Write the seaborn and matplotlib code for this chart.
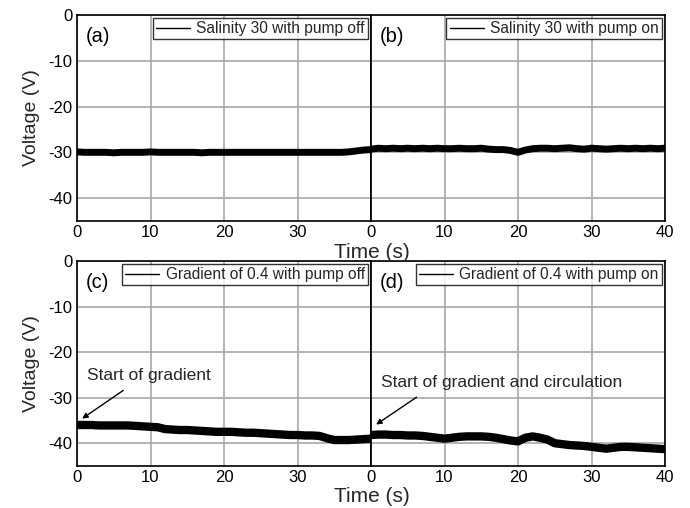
import numpy as np
import pandas as pd
import matplotlib
matplotlib.use("Agg")
import matplotlib.pyplot as plt
import seaborn as sns
from matplotlib.ticker import MultipleLocator

# Time axis (s) and measured voltage traces (V)
time_s = list(range(0, 41))

volt_a = [-29.9, -30.0, -30.0, -30.0, -30.0, -30.1, -30.0, -30.0, -30.0, -30.0,
          -29.9, -30.0, -30.0, -30.0, -30.0, -30.0, -30.0, -30.1, -30.0, -30.0,
          -30.0, -30.0, -30.0, -30.0, -30.0, -30.0, -30.0, -30.0, -30.0, -30.0,
          -30.0, -30.0, -30.0, -30.0, -30.0, -30.0, -30.0, -29.9, -29.7, -29.5, -29.4]

volt_b = [-29.3, -29.1, -29.2, -29.1, -29.2, -29.1, -29.2, -29.1, -29.2, -29.1,
          -29.2, -29.2, -29.1, -29.2, -29.2, -29.1, -29.3, -29.4, -29.4, -29.6,
          -30.0, -29.5, -29.2, -29.1, -29.1, -29.2, -29.1, -29.0, -29.2, -29.3,
          -29.1, -29.2, -29.3, -29.2, -29.1, -29.2, -29.1, -29.2, -29.1, -29.2, -29.1]

volt_c = [-36.0, -36.0, -36.0, -36.1, -36.1, -36.1, -36.1, -36.1, -36.2, -36.3,
          -36.4, -36.5, -36.9, -37.0, -37.1, -37.1, -37.2, -37.3, -37.4, -37.5,
          -37.5, -37.5, -37.6, -37.7, -37.7, -37.8, -37.9, -38.0, -38.1, -38.2,
          -38.2, -38.3, -38.3, -38.4, -38.9, -39.3, -39.3, -39.3, -39.2, -39.1, -39.0]

volt_d = [-38.2, -38.1, -38.1, -38.2, -38.2, -38.3, -38.3, -38.4, -38.6, -38.8,
          -39.0, -38.8, -38.6, -38.5, -38.5, -38.5, -38.6, -38.8, -39.1, -39.4,
          -39.6, -38.8, -38.5, -38.8, -39.2, -40.0, -40.2, -40.4, -40.5, -40.6,
          -40.8, -41.0, -41.2, -41.0, -40.8, -40.8, -40.9, -41.0, -41.1, -41.2, -41.3]

panel_tags = ["(a)", "(b)", "(c)", "(d)"]
legend_labels = ["Salinity 30 with pump off", "Salinity 30 with pump on",
                 "Gradient of 0.4 with pump off", "Gradient of 0.4 with pump on"]
trace_widths = [5, 5, 6, 6]
y_ticks = [0, -10, -20, -30, -40]
x_ticks = [0, 10, 20, 30, 40]

sns.set_theme(style="white")
plt.rcParams["font.family"] = ["Liberation Sans", "DejaVu Sans"]
plt.rcParams["axes.unicode_minus"] = False

fig = plt.figure(figsize=(6.9, 5.08), dpi=100)
W, H = 690, 508
def box(x0, y0, x1, y1):
    return [x0 / W, 1 - y1 / H, (x1 - x0) / W, (y1 - y0) / H]

axes = [fig.add_axes(box(77, 15, 371, 221)),
        fig.add_axes(box(371, 15, 665, 221)),
        fig.add_axes(box(77, 261, 371, 466)),
        fig.add_axes(box(371, 261, 665, 466))]

series = [volt_a, volt_b, volt_c, volt_d]
for i, (ax, vals) in enumerate(zip(axes, series)):
    df = pd.DataFrame({"Time (s)": time_s, "Voltage (V)": vals})
    sns.lineplot(data=df, x="Time (s)", y="Voltage (V)", ax=ax, color="black",
                 linewidth=trace_widths[i], label=legend_labels[i], zorder=3)
    ax.set_xlim(0, 40)
    ax.set_ylim(-45, 0)
    ax.xaxis.set_major_locator(MultipleLocator(10))
    ax.xaxis.set_minor_locator(MultipleLocator(5))
    ax.yaxis.set_major_locator(MultipleLocator(10))
    ax.yaxis.set_minor_locator(MultipleLocator(5))
    ax.grid(True, which="major", color="#a8a8a8", linewidth=1.2, zorder=0)
    for sp in ax.spines.values():
        sp.set_color("black")
        sp.set_linewidth(1.2)
    ax.tick_params(which="both", direction="in", colors="black", labelsize=12,
                   top=False, right=False)
    ax.tick_params(which="major", length=5, width=1.1)
    ax.tick_params(which="minor", length=3, width=1.0)
    ax.set_xlabel("")
    if i % 2 == 0:
        ax.set_ylabel("Voltage (V)", fontsize=14, labelpad=6)
        ax.set_yticks(y_ticks)
        ax.set_yticklabels([str(v) for v in y_ticks])
        ax.set_xticks(x_ticks[:-1])
        ax.set_xticklabels([str(v) for v in x_ticks[:-1]])
    else:
        ax.set_ylabel("")
        ax.tick_params(axis="y", labelleft=False)
        ax.set_xticks(x_ticks)
        ax.set_xticklabels([str(v) for v in x_ticks])
    ax.tick_params(axis="x", pad=3)
    ax.text(0.031, 0.895, panel_tags[i], transform=ax.transAxes, fontsize=14.5,
            va="center", ha="left", color="black")
    leg = ax.legend(loc="upper right", fontsize=11.2, frameon=True, fancybox=False,
                    borderaxespad=0.2, borderpad=0.2, handlelength=2.2,
                    handletextpad=0.4, edgecolor="black")
    leg.get_frame().set_linewidth(1.0)
    for h in leg.get_lines():
        h.set_linewidth(1.0)

fig.text(372 / W, 1 - 252 / H, "Time (s)", fontsize=15, ha="center", va="center")
fig.text(372 / W, 1 - 496 / H, "Time (s)", fontsize=15, ha="center", va="center")

arrow = dict(arrowstyle="-|>", color="black", lw=1.0, mutation_scale=8,
             shrinkA=0, shrinkB=0)
axes[2].annotate("", xy=(0.7, -34.6), xytext=(6.3, -28.4), arrowprops=arrow)
axes[2].text(1.4, -25.1, "Start of gradient", fontsize=12.5, ha="left",
             va="center")
axes[3].annotate("", xy=(0.7, -35.9), xytext=(6.2, -29.9), arrowprops=arrow)
axes[3].text(1.4, -26.6, "Start of gradient and circulation", fontsize=12.5,
             ha="left", va="center")

fig.savefig("out.png", dpi=100)
